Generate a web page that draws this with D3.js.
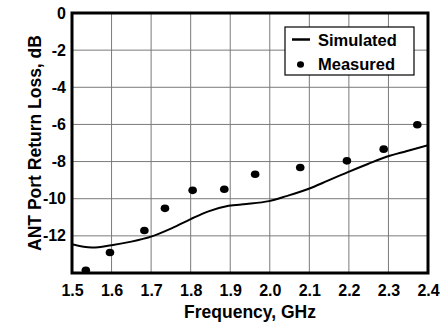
<!DOCTYPE html>
<html>
<head>
<meta charset="utf-8">
<script src="https://d3js.org/d3.v7.min.js"></script>
<style>
  body { margin: 0; background: #fff; }
  text { font-family: "Liberation Sans", Arial, sans-serif; font-weight: bold; fill: #000; }
</style>
</head>
<body>
<div id="vis"></div>
<script>
// simulated curve (GHz, dB)
let simFreq = [1.50, 1.55, 1.60, 1.65, 1.70, 1.753, 1.80, 1.845, 1.896, 1.941, 1.998, 2.042, 2.097, 2.147, 2.196, 2.248, 2.297, 2.345, 2.40];
let simLoss = [-12.45, -12.63, -12.5, -12.31, -12.04, -11.58, -11.1, -10.68, -10.38, -10.29, -10.13, -9.86, -9.48, -9.03, -8.58, -8.13, -7.73, -7.44, -7.12];

// measured points
let measFreq = [1.535, 1.596, 1.683, 1.735, 1.805, 1.885, 1.963, 2.077, 2.195, 2.288, 2.373];
let measLoss = [-13.85, -12.9, -11.71, -10.52, -9.55, -9.49, -8.68, -8.32, -7.96, -7.33, -6.02];

let xTicks = [1.5, 1.6, 1.7, 1.8, 1.9, 2.0, 2.1, 2.2, 2.3, 2.4];
let yTicks = [0, -2, -4, -6, -8, -10, -12];
let yGrid = [-2, -4, -6, -8, -10, -12];

let width = 445, height = 326;
let margin = {top: 13, right: 17, bottom: 53, left: 72};

let svg = d3.select('#vis').append('svg')
  .attr('width', width)
  .attr('height', height);

let x = d3.scaleLinear().domain([1.5, 2.4]).range([margin.left, width - margin.right]);
let y = d3.scaleLinear().domain([-14, 0]).range([height - margin.bottom, margin.top]);

svg.append('clipPath').attr('id', 'plot')
  .append('rect')
  .attr('x', margin.left).attr('y', margin.top)
  .attr('width', width - margin.left - margin.right)
  .attr('height', height - margin.top - margin.bottom);

//grid
svg.append('g').selectAll('line')
  .data(xTicks.slice(1, -1))
  .join('line')
  .attr('x1', d => x(d)).attr('x2', d => x(d))
  .attr('y1', margin.top).attr('y2', height - margin.bottom)
  .attr('stroke', '#7a7a7a').attr('stroke-width', 1);

svg.append('g').selectAll('line')
  .data(yGrid)
  .join('line')
  .attr('y1', d => y(d)).attr('y2', d => y(d))
  .attr('x1', margin.left).attr('x2', width - margin.right)
  .attr('stroke', '#7a7a7a').attr('stroke-width', 1);

//axes (labels only, frame drawn separately)
let xAxis = svg.append('g')
  .attr('transform', `translate(0,${height - margin.bottom})`)
  .call(d3.axisBottom(x).tickValues(xTicks).tickFormat(d => d.toFixed(1)).tickSize(0).tickPadding(12));
xAxis.select('.domain').remove();
xAxis.selectAll('text').style('font-size', '16px').attr('font-family', null);

let yAxis = svg.append('g')
  .attr('transform', `translate(${margin.left},0)`)
  .call(d3.axisLeft(y).tickValues(yTicks).tickFormat(d => String(d)).tickSize(0).tickPadding(6));
yAxis.select('.domain').remove();
yAxis.selectAll('text').style('font-size', '16px').attr('font-family', null);

//simulated line
let simData = simFreq.map((f, i) => ({f: f, v: simLoss[i]}));
svg.append('path')
  .datum(simData)
  .attr('clip-path', 'url(#plot)')
  .attr('d', d3.line().x(d => x(d.f)).y(d => y(d.v)).curve(d3.curveCatmullRom))
  .attr('fill', 'none')
  .attr('stroke', '#000')
  .attr('stroke-width', 2);

//measured dots
let measData = measFreq.map((f, i) => ({f: f, v: measLoss[i]}));
svg.append('g').attr('clip-path', 'url(#plot)')
  .selectAll('ellipse')
  .data(measData)
  .join('ellipse')
  .attr('cx', d => x(d.f))
  .attr('cy', d => y(d.v))
  .attr('rx', 4.3).attr('ry', 3.8)
  .attr('fill', '#000');

//frame
svg.append('rect')
  .attr('x', margin.left).attr('y', margin.top)
  .attr('width', width - margin.left - margin.right)
  .attr('height', height - margin.top - margin.bottom)
  .attr('fill', 'none')
  .attr('stroke', '#000')
  .attr('stroke-width', 3);

//legend
let leg = svg.append('g').attr('transform', 'translate(285,27)');
leg.append('rect')
  .attr('width', 129).attr('height', 48)
  .attr('fill', '#fff').attr('stroke', '#000').attr('stroke-width', 1.2);
leg.append('line')
  .attr('x1', 7).attr('x2', 25).attr('y1', 12.5).attr('y2', 12.5)
  .attr('stroke', '#000').attr('stroke-width', 2.5);
leg.append('text').attr('x', 33).attr('y', 19).style('font-size', '16.5px').text('Simulated');
leg.append('ellipse').attr('cx', 15.5).attr('cy', 37.5).attr('rx', 3.5).attr('ry', 3.2).attr('fill', '#000');
leg.append('text').attr('x', 33).attr('y', 43).style('font-size', '16.5px').text('Measured');

//axis titles
svg.append('text')
  .attr('x', (margin.left + width - margin.right) / 2)
  .attr('y', 318)
  .attr('text-anchor', 'middle')
  .style('font-size', '17.5px')
  .text('Frequency, GHz');

svg.append('text')
  .attr('transform', `translate(41,${(margin.top + height - margin.bottom) / 2}) rotate(-90)`)
  .attr('text-anchor', 'middle')
  .style('font-size', '17.5px')
  .text('ANT Port Return Loss, dB');
</script>
</body>
</html>
